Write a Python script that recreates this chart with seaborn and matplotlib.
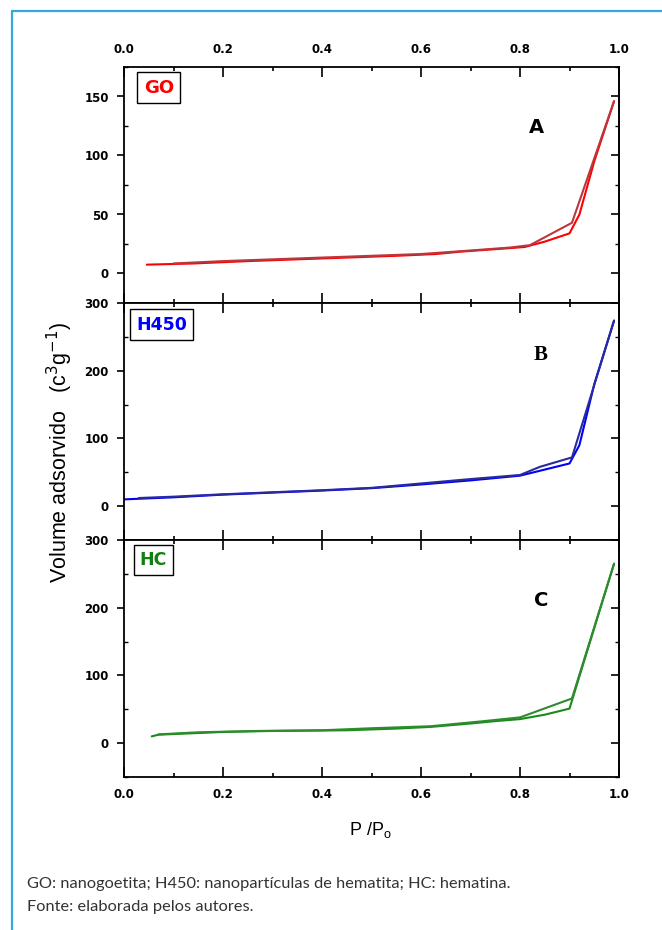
import numpy as np
import pandas as pd
import matplotlib
matplotlib.use("Agg")
import matplotlib.pyplot as plt
import seaborn as sns
from matplotlib.ticker import MultipleLocator, FixedLocator
from matplotlib.lines import Line2D

go_ads_p = [0.046, 0.14, 0.25, 0.35, 0.45, 0.55, 0.63, 0.68, 0.73, 0.78, 0.81, 0.85, 0.90, 0.92, 0.95, 0.99]
go_ads_v = [7.5, 8.5, 10.5, 12, 13.5, 15, 16.5, 18.5, 20, 21.5, 22.5, 27, 34, 50, 95, 146]
go_des_p = [0.99, 0.905, 0.82, 0.78, 0.70, 0.60, 0.50, 0.40, 0.30, 0.20, 0.10]
go_des_v = [146, 43, 24, 22, 19.5, 16.5, 15, 13.5, 12, 10.5, 8.5]

h450_ads_p = [0.0, 0.1, 0.2, 0.3, 0.4, 0.5, 0.6, 0.7, 0.8, 0.85, 0.90, 0.92, 0.95, 0.99]
h450_ads_v = [10, 13, 17, 20, 23, 26.5, 32, 38, 45, 54, 63, 90, 180, 274]
h450_des_p = [0.99, 0.905, 0.84, 0.80, 0.70, 0.60, 0.50, 0.40, 0.30, 0.20, 0.10, 0.03]
h450_des_v = [274, 72, 58, 46, 40, 33.5, 27, 23.5, 20.5, 17.5, 14, 12]

hc_ads_p = [0.056, 0.07, 0.2, 0.3, 0.45, 0.55, 0.62, 0.7, 0.75, 0.8, 0.85, 0.90, 0.99]
hc_ads_v = [10, 12.5, 16.5, 18, 19, 21.5, 24, 29, 32.5, 35.5, 42, 51, 265]
hc_des_p = [0.99, 0.905, 0.83, 0.80, 0.72, 0.62, 0.50, 0.40, 0.27, 0.15, 0.07]
hc_des_v = [265, 66, 46, 38, 32, 25, 22, 19, 18, 16, 13]

samples = ["GO", "H450", "HC"]
letters = ["A", "B", "C"]
x_ticks = [0.0, 0.2, 0.4, 0.6, 0.8, 1.0]
y_ticks = [[0, 50, 100, 150], [0, 100, 200, 300], [0, 100, 200, 300]]

def make_df(ads_p, ads_v, des_p, des_v):
    a = pd.DataFrame({"P": ads_p, "V": ads_v, "branch": "ads"})
    d = pd.DataFrame({"P": des_p, "V": des_v, "branch": "des"})
    return pd.concat([a, d], ignore_index=True)

frames = [make_df(go_ads_p, go_ads_v, go_des_p, go_des_v),
          make_df(h450_ads_p, h450_ads_v, h450_des_p, h450_des_v),
          make_df(hc_ads_p, hc_ads_v, hc_des_p, hc_des_v)]

palettes = [{"ads": "#ff0000", "des": "#b8383f"},
            {"ads": "#0000ff", "des": "#2a2a9a"},
            {"ads": "#1a8a1a", "des": "#2e8b2e"}]
label_colors = ["#ff0000", "#0000ff", "#118011"]
ylims = [(-25, 175), (-50, 300), (-50, 300)]
yminor = [25, 50, 50]

sns.set_style("ticks")
plt.rcParams["font.family"] = ["DejaVu Sans"]
plt.rcParams["text.color"] = "black"
plt.rcParams["xtick.color"] = "black"
plt.rcParams["ytick.color"] = "black"
plt.rcParams["axes.labelcolor"] = "black"

fig = plt.figure(figsize=(6.62, 9.30), dpi=100)

# panel positions in pixels (top, bottom)
left, right = 124, 619
panel_px = [(67, 303), (303, 540), (540, 777)]
W, H = 662, 930

# label box placement (x, y in axes fraction)
box_pos = [(0.04, 0.95), (0.025, 0.947), (0.032, 0.954)]
box_size = [13, 12.5, 12.5]

axes = []
for i, (top, bot) in enumerate(panel_px):
    ax = fig.add_axes([left / W, 1 - bot / H, (right - left) / W, (bot - top) / H])
    axes.append(ax)
    sns.lineplot(data=frames[i], x="P", y="V", hue="branch", palette=palettes[i],
                 sort=False, estimator=None, legend=False, lw=1.5, ax=ax)
    ax.set_xlim(0, 1.0)
    ax.set_ylim(*ylims[i])
    ax.set_xlabel("")
    ax.set_ylabel("")
    for s in ax.spines.values():
        s.set_linewidth(1.3)
        s.set_color("black")

    ax.xaxis.set_major_locator(FixedLocator(x_ticks))
    ax.xaxis.set_minor_locator(MultipleLocator(0.1))
    ax.tick_params(axis="x", which="both", direction="in", top=True, bottom=True,
                   labelbottom=(i == 2), labeltop=(i == 0), width=1.2)
    ax.tick_params(axis="x", which="major", length=7, pad=8)
    ax.tick_params(axis="x", which="minor", length=3)
    ax.set_xticklabels(["%.1f" % t for t in x_ticks], fontsize=8.5, fontweight="bold")

    ax.yaxis.set_major_locator(FixedLocator(y_ticks[i]))
    ax.yaxis.set_minor_locator(MultipleLocator(yminor[i]))
    ax.tick_params(axis="y", which="major", direction="out", length=5, width=1.2, right=False, pad=6)
    ax.tick_params(axis="y", which="minor", direction="in", length=3, width=1.0, right=False)
    ax.set_yticklabels([str(t) for t in y_ticks[i]], fontsize=8.5, fontweight="bold")

    sec = ax.secondary_yaxis("right")
    sec.yaxis.set_major_locator(FixedLocator(y_ticks[i]))
    sec.yaxis.set_minor_locator(MultipleLocator(yminor[i]))
    sec.tick_params(which="major", direction="in", length=6, width=1.2, labelright=False)
    sec.tick_params(which="minor", direction="in", length=3, width=1.0)
    sec.spines["right"].set_linewidth(1.3)

    bx, by = box_pos[i]
    ax.text(bx, by, samples[i], transform=ax.transAxes, ha="left", va="top",
            color=label_colors[i], fontsize=box_size[i], fontweight="bold",
            bbox=dict(boxstyle="square,pad=0.35", fc="white", ec="black", lw=1.0))

# panel letters
axes[0].text(0.833, 0.745, "A", transform=axes[0].transAxes, ha="center", va="center",
             fontsize=14, fontweight="bold", color="black")
axes[1].text(0.842, 0.78, "B", transform=axes[1].transAxes, ha="center", va="center",
             fontsize=15, fontweight="bold", family="Liberation Serif", color="black")
axes[2].text(0.842, 0.745, "C", transform=axes[2].transAxes, ha="center", va="center",
             fontsize=14, fontweight="bold", color="black")

# axis titles
fig.text(60 / W, 1 - 452 / H, r"Volume adsorvido   (c$^3$g$^{-1}$)", rotation=90,
         ha="center", va="center", fontsize=15.5, family="Liberation Sans")
fig.text(370 / W, 1 - 830 / H, r"P /P$_{\mathregular{o}}$", ha="center", va="center",
         fontsize=13, family="Liberation Sans")

# caption
fig.text(27 / W, 1 - 884 / H, "GO: nanogoetita; H450: nanopartículas de hematita; HC: hematina.",
         ha="left", va="center", fontsize=11.8, family="Lato", color="#333333")
fig.text(27 / W, 1 - 907 / H, "Fonte: elaborada pelos autores.",
         ha="left", va="center", fontsize=11.8, family="Lato", color="#333333")

# light blue frame
fig.add_artist(Line2D([11.5 / W, 1], [1 - 11.5 / H, 1 - 11.5 / H], transform=fig.transFigure,
                      color="#35a8df", lw=1.6))
fig.add_artist(Line2D([11.5 / W, 11.5 / W], [0, 1 - 11.5 / H], transform=fig.transFigure,
                      color="#35a8df", lw=1.6))

fig.savefig("out.png", dpi=100)
